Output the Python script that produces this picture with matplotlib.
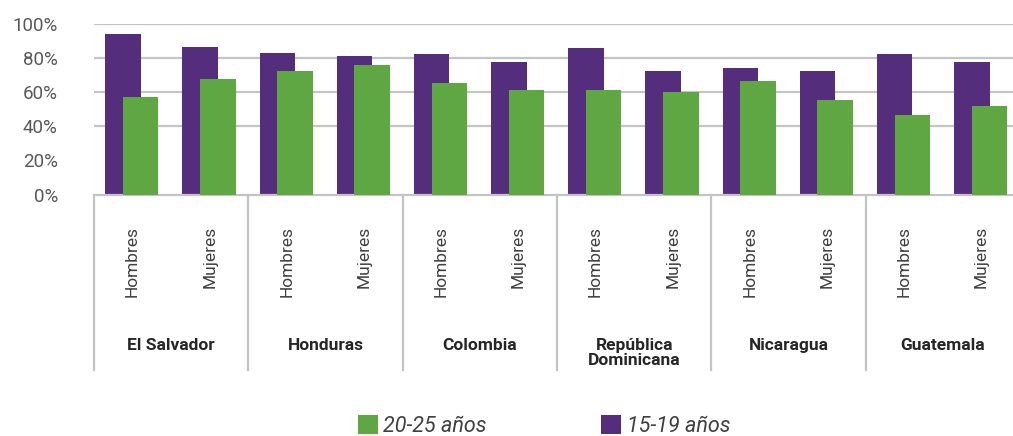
import matplotlib.pyplot as plt
import numpy as np

countries = ['El Salvador', 'Honduras', 'Colombia', 'República\nDominicana', 'Nicaragua', 'Guatemala']
sexes = ['Hombres', 'Mujeres']
edad_15_19 = [93.8, 86.3, 82.7, 81.0, 82.2, 77.5, 85.7, 72.2, 74.0, 72.2, 82.2, 77.5]
edad_20_25 = [57.0, 67.5, 72.2, 75.7, 65.2, 61.1, 61.1, 60.0, 66.4, 55.3, 46.5, 51.8]
yticks = [0, 20, 40, 60, 80, 100]

purple = '#552D7D'
green = '#5FA743'
grid_c = '#c4c4c4'

plt.rcParams['font.family'] = ['Roboto', 'DejaVu Sans']

W, H = 1013, 436
fig = plt.figure(figsize=(W / 100, H / 100), dpi=100)
ax_left, ax_right, ax_top, ax_bot = 94, 1020, 23.5, 194.5
ax = fig.add_axes([ax_left / W, 1 - ax_bot / H, (ax_right - ax_left) / W, (ax_bot - ax_top) / H])

x = np.arange(len(edad_15_19))
w = 0.46
b1 = ax.bar(x - 0.125, edad_15_19, width=w, color=purple, zorder=2)
b2 = ax.bar(x + 0.105, edad_20_25, width=w, color=green, zorder=3)

ax.set_xlim(-0.5, len(x) - 0.5)
ax.set_ylim(0, 100)
ax.set_yticks(yticks)
ax.set_yticklabels([f'{v}%' for v in yticks], color='#595959', fontsize=13.5)
ax.tick_params(axis='y', length=0, pad=26)
ax.set_xticks([])
for v in [40, 60, 80, 100]:
    ax.axhline(v, color=grid_c, linewidth=1.6, zorder=1)
for s in ['top', 'right', 'left']:
    ax.spines[s].set_visible(False)
ax.spines['bottom'].set_color(grid_c)
ax.spines['bottom'].set_linewidth(1.6)

def ay(py):
    return (ax_bot - py) / (ax_bot - ax_top)

tr = ax.get_xaxis_transform()
for g in range(len(countries)):
    ax.plot([2 * g - 0.5, 2 * g - 0.5], [0, ay(370)], color=grid_c, lw=1.6,
            transform=tr, clip_on=False)
    for k, s in enumerate(sexes):
        ax.text(2 * g + k, ay(226), s, rotation=90, ha='center', va='top',
                fontsize=12.5, color='#404040', transform=tr)
    ax.text(2 * g + 0.5, ay(338), countries[g], ha='center', va='top',
            fontsize=12.5, fontweight='bold', color='#262626', transform=tr,
            linespacing=1.0)

fig.legend([b2, b1], ['20-25 años', '15-19 años'], loc='center',
           bbox_to_anchor=(0.537, 1 - 426 / H), ncol=2, frameon=False,
           prop={'size': 15.5, 'style': 'italic'}, labelcolor='#404040',
           handlelength=0.95, handleheight=0.95, handletextpad=0.25,
           columnspacing=5.3)

fig.savefig('out.png', dpi=100)
